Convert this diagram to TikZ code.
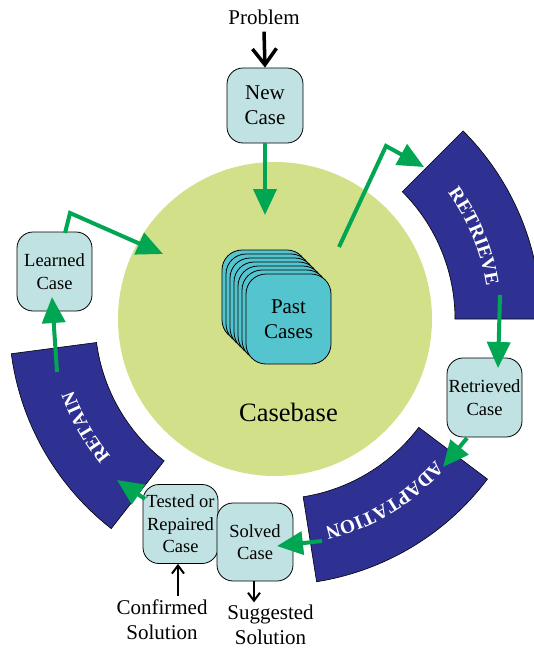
\documentclass[tikz,border=0pt]{standalone}
\usepackage{fontspec}
\setmainfont{Liberation Serif}
\usetikzlibrary{arrows.meta,calc,decorations.text}
\definecolor{boxfill}{RGB}{193,226,226}
\definecolor{pastfill}{RGB}{84,197,207}
\definecolor{basefill}{RGB}{211,224,138}
\definecolor{bandfill}{RGB}{46,49,146}
\definecolor{arrgreen}{RGB}{0,166,81}
\newcommand\bandfont{\fontsize{19.5}{19.5}\selectfont\bfseries\color{white}}
\begin{document}
\begin{tikzpicture}[x=1pt,y=-1pt,
  casebox/.style={draw=black, line width=0.8pt, fill=boxfill, rounded corners=16pt,
    minimum width=75pt, minimum height=79pt, align=center, inner sep=0pt,
    font=\fontsize{18.5}{22.5}\selectfont},
  pastbox/.style={draw=black, line width=0.8pt, fill=pastfill, rounded corners=20pt,
    minimum width=85pt, minimum height=90pt, align=center, inner sep=0pt,
    font=\fontsize{21}{25}\selectfont},
  plain/.style={align=center, inner sep=0pt, font=\fontsize{21}{25}\selectfont},
  band/.style={fill=bandfill, draw=black, line width=0.6pt},
  garrow/.style={draw=arrgreen, line width=4pt, line join=miter,
    -{Triangle[length=26pt,width=23pt]}},
  barrow/.style={draw=black, line width=3.5pt, line join=miter,
    -{Straight Barb[length=16pt,width=24pt]}},
  tarrow/.style={draw=black, line width=2pt, line join=miter,
    -{Straight Barb[length=8pt,width=12pt]}}
]
\useasboundingbox (0,0) rectangle (533,648);
\coordinate (C) at (275,319);

% casebase circle
\node[circle, fill=basefill, minimum size=314pt, inner sep=0pt] (casebase) at (C) {};
\node[plain, font=\fontsize{26.5}{30}\selectfont, anchor=base] (cblabel) at (288.5,421) {Casebase};

% bands
\path[band] ($(C)+(-45:180)$) -- ($(C)+(-45:266)$) arc[start angle=-45, end angle=0, radius=266]
  -- ($(C)+(0:180)$) arc[start angle=0, end angle=-45, radius=180] -- cycle;
\path[band] ($(C)+(37:180)$) -- ($(C)+(37:266)$) arc[start angle=37, end angle=81, radius=266]
  -- ($(C)+(81:180)$) arc[start angle=81, end angle=37, radius=180] -- cycle;
\path[band] ($(C)+(128:180)$) -- ($(C)+(128:266)$) arc[start angle=128, end angle=172.5, radius=266]
  -- ($(C)+(172.5:180)$) arc[start angle=172.5, end angle=128, radius=180] -- cycle;

\path[decorate, decoration={text along path, text align=center, text={|\bandfont|RETRIEVE}}]
  ($(C)+(-45:214)$) arc[start angle=-45, end angle=0, radius=214];
\path[decorate, decoration={text along path, text align=center, text={|\bandfont|ADAPTATION}}]
  ($(C)+(37:214)$) arc[start angle=37, end angle=81, radius=214];
\path[decorate, decoration={text along path, text align=center, text={|\bandfont|RETAIN}}]
  ($(C)+(128:214)$) arc[start angle=128, end angle=172.5, radius=214];

% past cases stack
\foreach \i in {6,5,4,3,2,1} {
  \node[pastbox] at (288.5-4*\i, 319-4*\i) {};
}
\node[pastbox] (past) at (288.5,319) {Past\\Cases};

% case boxes
\node[casebox, minimum width=76pt, minimum height=75pt, font=\fontsize{21}{25}\selectfont] (newcase) at (265,105.5) {New\\Case};
\node[casebox] (learned) at (54.5,271.5) {Learned\\Case};
\node[casebox] (retrieved) at (484.5,397.5) {Retrieved\\Case};
\node[casebox] (tested) at (180.5,524) {Tested or\\Repaired\\Case};
\node[casebox, minimum width=76pt, minimum height=78pt] (solved) at (255,542) {Solved\\Case};

% labels
\node[plain] (problem) at (264,17) {Problem};
\node[plain] (confirmed) at (162,619.5) {Confirmed\\Solution};
\node[plain] (suggested) at (270.5,624.5) {Suggested\\Solution};

% coordinates for free ends
\coordinate (cbtop) at (265,215);
\coordinate (cbout) at (339,247);
\coordinate (k1) at (386,146);
\coordinate (retrievein) at (424,167);
\coordinate (retrieveout) at (500,295);
\coordinate (retrievedin) at (498,368);
\coordinate (retrievedout) at (467,438);
\coordinate (adaptin) at (443,467);
\coordinate (adaptout) at (322,541);
\coordinate (solvedin) at (277,546);
\coordinate (testedout) at (145,499);
\coordinate (retainin) at (117,480);
\coordinate (retainout) at (57,372);
\coordinate (learnedin) at (52,297);
\coordinate (learnedout) at (65,233);
\coordinate (k2) at (70,213);
\coordinate (cbleft) at (163,254);

% arrows
\draw[barrow] ([yshift=-7pt]problem.south) -- (newcase.north);
\draw[garrow] (newcase.south) -- (cbtop);
\draw[garrow] (cbout) -- (k1) -- (retrievein);
\draw[garrow] (retrieveout) -- (retrievedin);
\draw[garrow] (retrievedout) -- (adaptin);
\draw[garrow] (adaptout) -- (solvedin);
\draw[garrow] (testedout) -- (retainin);
\draw[garrow] (retainout) -- (learnedin);
\draw[garrow] (learnedout) -- (k2) -- (cbleft);
\draw[tarrow] ([yshift=3pt]confirmed.north -| tested.south) ++(-2.5,0) -- ([xshift=-2.5pt]tested.south);
\draw[tarrow] ([xshift=-1pt]solved.south) -- ([xshift=-1pt,yshift=-21pt]solved.south);
\end{tikzpicture}
\end{document}
